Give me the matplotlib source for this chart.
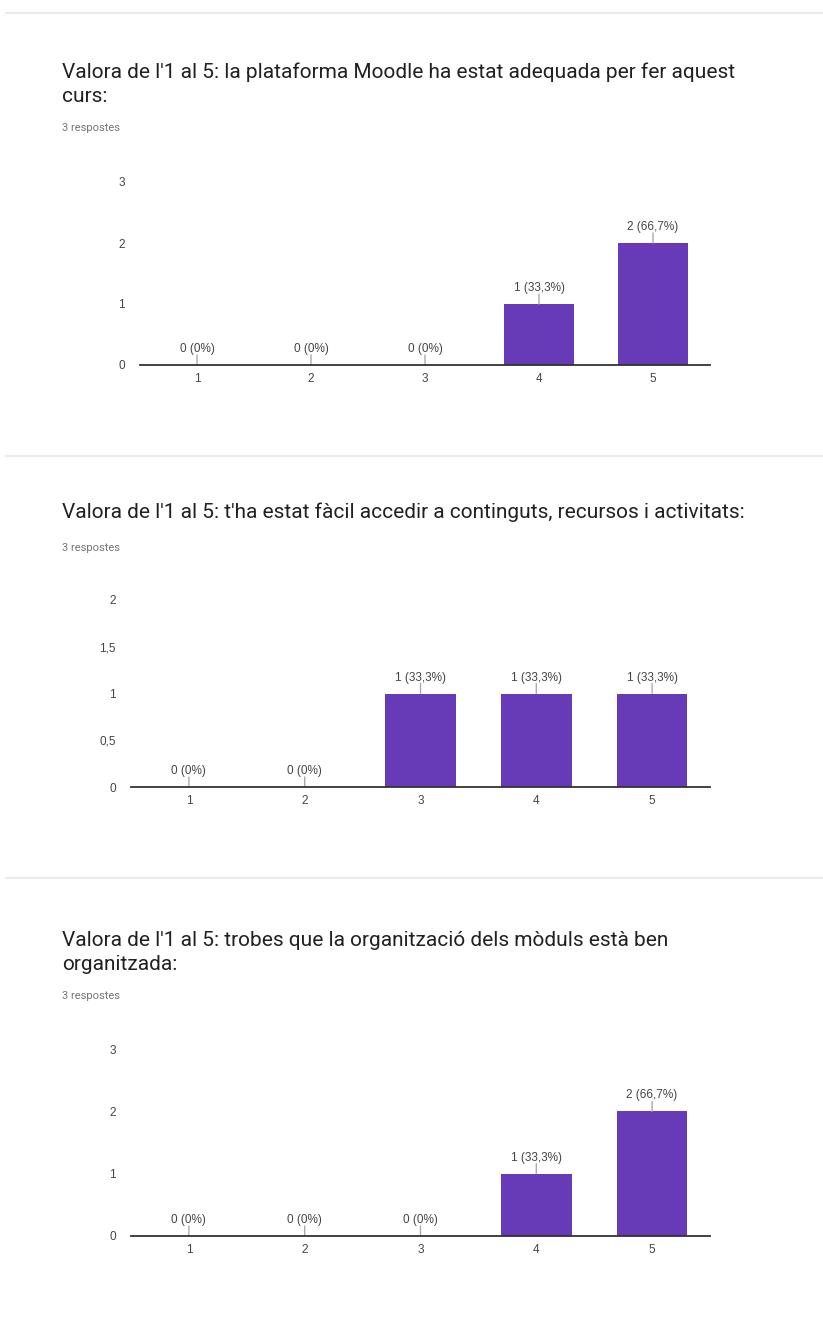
import matplotlib
matplotlib.use("Agg")
import matplotlib.pyplot as plt
from matplotlib.ticker import FuncFormatter

# Respostes del qüestionari (escala 1-5)
categories = [1, 2, 3, 4, 5]
moodle_counts = [0, 0, 0, 1, 2]
access_counts = [0, 0, 1, 1, 1]
modules_counts = [0, 0, 0, 1, 2]
n_responses = 3

titles = [
    ["Valora de l'1 al 5: la plataforma Moodle ha estat adequada per fer aquest", "curs:"],
    ["Valora de l'1 al 5: t'ha estat fàcil accedir a continguts, recursos i activitats:"],
    ["Valora de l'1 al 5: trobes que la organització dels mòduls està ben", "organitzada:"],
]
y_ticks = [[0, 1, 2, 3], [0, 0.5, 1, 1.5, 2], [0, 1, 2, 3]]

W, H = 823, 1321
PURPLE = "#673ab7"
TITLE_FONT = "Roboto"
CHART_FONT = "Liberation Sans"

fig = plt.figure(figsize=(W / 100, H / 100), dpi=100)
fig.patch.set_facecolor("white")


def px_axes(x0, y_top, x1, y_bottom):
    # axes placed in pixel coordinates (origin top-left)
    return fig.add_axes([x0 / W, 1 - y_bottom / H, (x1 - x0) / W, (y_bottom - y_top) / H])


def fy(y):
    return 1 - y / H


def comma(v, pos=None):
    return f"{v:g}".replace(".", ",")


def pct_label(v):
    p = 100 * v / n_responses
    if p == 0:
        return f"{v} (0%)"
    return f"{v} ({p:.1f}%)".replace(".", ",")


# separadors entre preguntes
for y in [13, 456, 878]:
    fig.add_artist(plt.Line2D([6 / W, 1], [fy(y), fy(y)], color="#ebebeb", lw=1.6))

panels = [
    # first title line y, "respostes" y, axes box (x0, ytop, x1, ybottom), counts
    (72, 128, (140, 182, 710, 365), moodle_counts),
    (512, 548, (131, 600, 710, 787), access_counts),
    (940, 996, (131, 1049, 710, 1236), modules_counts),
]

for i, (ty, ry, box, counts) in enumerate(panels):
    for k, line in enumerate(titles[i]):
        fig.text(62 / W, fy(ty + 25 * k), line, fontsize=15, family=TITLE_FONT,
                 color="#212121", va="center", ha="left")
    fig.text(62 / W, fy(ry), f"{n_responses} respostes", fontsize=8, family=TITLE_FONT,
             color="#757575", va="center", ha="left")

    ax = px_axes(*box)
    ax.bar(categories, counts, width=0.61, color=PURPLE, zorder=2)
    ax.set_xlim(0.5, 5.5)
    ax.set_ylim(0, y_ticks[i][-1])
    ax.set_yticks(y_ticks[i])
    ax.yaxis.set_major_formatter(FuncFormatter(comma))
    ax.set_xticks(categories)
    for s in ["top", "right", "left"]:
        ax.spines[s].set_visible(False)
    ax.spines["bottom"].set_color("#333333")
    ax.spines["bottom"].set_linewidth(1.3)
    ax.spines["bottom"].set_zorder(3)
    ax.tick_params(length=0, labelsize=8.5, labelcolor="#444444", pad=6)
    ax.tick_params(axis="y", pad=11)
    for lab in ax.get_xticklabels() + ax.get_yticklabels():
        lab.set_family(CHART_FONT)

    for c, v in zip(categories, counts):
        # petita línia guia des de la barra fins a l'etiqueta
        ax.annotate("", xy=(c, v), xytext=(0, 10), textcoords="offset pixels",
                    annotation_clip=False,
                    arrowprops=dict(arrowstyle="-", color="#aaaaaa", lw=1,
                                    shrinkA=0, shrinkB=0))
        ax.annotate(pct_label(v), xy=(c, v), xytext=(0, 10), textcoords="offset pixels",
                    ha="center", va="bottom", fontsize=8.5, family=CHART_FONT,
                    color="#444444", annotation_clip=False)

fig.savefig("out.png", dpi=100, facecolor="white")
